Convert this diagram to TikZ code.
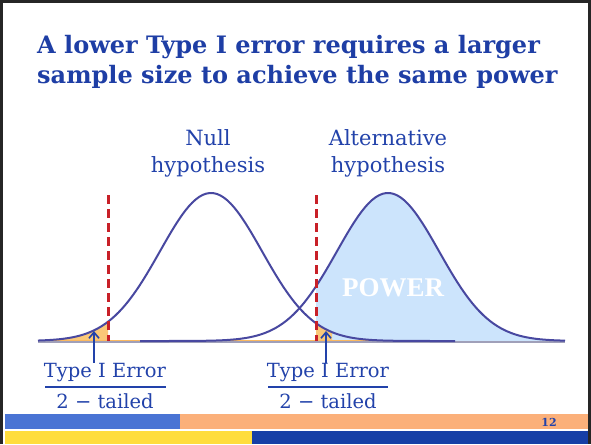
\documentclass[tikz,border=0pt]{standalone}
\usepackage{fontspec}
\setmainfont{DejaVu Serif}
\newfontfamily\timesfont{Liberation Serif}
\usetikzlibrary{arrows.meta}
\definecolor{titleblue}{RGB}{30,62,165}
\definecolor{txtblue}{RGB}{34,66,170}
\definecolor{curvecol}{RGB}{72,72,160}
\definecolor{cutred}{RGB}{200,32,40}
\definecolor{powerblue}{RGB}{204,228,252}
\definecolor{tailorange}{RGB}{250,200,120}
\definecolor{basegray}{RGB}{160,160,185}
\definecolor{barblue}{RGB}{74,116,212}
\definecolor{barorange}{RGB}{251,176,122}
\definecolor{baryellow}{RGB}{255,221,60}
\definecolor{bardark}{RGB}{22,63,166}
\begin{document}
\begin{tikzpicture}
    [x=1pt,y=-1pt,
    declare function={nul(\x)=341-148*exp(-((\x-211)/51)^2/2);
                      alt(\x)=341-148*exp(-((\x-388)/51)^2/2);},
    curve/.style={line width=2pt,draw=curvecol},
    cut/.style={line width=3pt,draw=cutred,dash pattern=on 9pt off 5pt},
    lbl/.style={text=txtblue,font=\fontsize{19.5}{22}\selectfont,inner sep=0pt},
    hyp/.style={text=txtblue,font=\fontsize{21}{27}\selectfont,inner sep=0pt,anchor=base},
    ttl/.style={anchor=base west,inner sep=0pt,text=titleblue,font=\bfseries\fontsize{24}{28}\selectfont},
    ptr/.style={-{Straight Barb[length=6pt,width=10pt]},line width=1.6pt,draw=txtblue}]
    \useasboundingbox (0,0) rectangle (591,444);
    %title
    \node[ttl] (ttlA) at (37,53) {A lower Type I error requires a larger};
    \node[ttl] (ttlB) at (37,83) {sample size to achieve the same power};
    %curve labels
    \node[hyp] (nulA) at (208,145) {Null};
    \node[hyp] (nulB) at (208,172) {hypothesis};
    \node[hyp] (altA) at (388,145) {Alternative};
    \node[hyp] (altB) at (388,172) {hypothesis};
    %shaded areas
    \fill[powerblue] (316,341) -- plot[domain=316:565,samples=80] (\x,{alt(\x)}) -- (565,341) -- cycle;
    \fill[tailorange] (38,341) -- plot[domain=38:108,samples=40] (\x,{nul(\x)}) -- (108,341) -- cycle;
    \fill[tailorange] (316,341) -- plot[domain=316:332,samples=20] (\x,{nul(\x)}) -- (332,341) -- cycle;
    %baseline
    \draw[line width=2.5pt,draw=basegray] (38,342)--(565,342);
    \draw[line width=1pt,draw=tailorange!80!orange] (40,340.3)--(441,340.3);
    %curves
    \draw[curve] plot[domain=38:455,samples=120] (\x,{nul(\x)});
    \draw[curve] plot[domain=140:565,samples=120] (\x,{alt(\x)});
    %cut-offs
    \draw[cut] (108,195)--(108,341);
    \draw[cut] (316,195)--(316,341);
    \node[text=white,font=\timesfont\bfseries\fontsize{27}{30}\selectfont] (pow) at (393,288) {POWER};
    %error labels
    \node[lbl,anchor=base] (errL) at (105,377) {Type I Error};
    \draw[line width=2pt,draw=txtblue] (45,387)--(166,387);
    \node[lbl,anchor=base] (tailL) at (105,408) {2 − tailed};
    \node[lbl,anchor=base] (errR) at (328,377) {Type I Error};
    \draw[line width=2pt,draw=txtblue] (268,387)--(388,387);
    \node[lbl,anchor=base] (tailR) at (328,408) {2 − tailed};
    \coordinate (tipL) at (94,331);
    \coordinate (tipR) at (326,331);
    \draw[ptr] (errL.north -| tipL) -- (tipL);
    \draw[ptr] (errR.north -| tipR) -- (tipR);
    %bars
    \fill[barblue] (5,414) rectangle (180,429);
    \fill[barorange] (180,414) rectangle (591,429);
    \fill[baryellow] (5,431) rectangle (252,444);
    \fill[bardark] (252,431) rectangle (591,444);
    \node[text=txtblue,font=\bfseries\fontsize{11}{12}\selectfont] (pg) at (549,422) {12};
    %frame
    \draw[line width=3pt,draw=black!85] (1.5,444)--(1.5,1.5)--(589.5,1.5)--(589.5,444);
\end{tikzpicture}
\end{document}
